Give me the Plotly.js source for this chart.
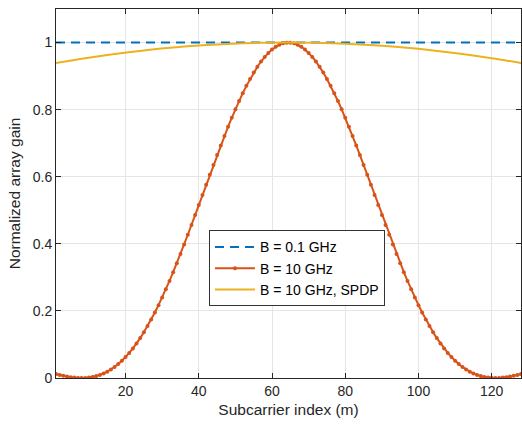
<!DOCTYPE html>
<html>
<head>
<meta charset="utf-8">
<script src="https://cdn.plot.ly/plotly-3.0.1.min.js"></script>
<style>html,body{margin:0;padding:0;background:#fff;}#chart{width:522px;height:428px;}</style>
</head>
<body>
<div id="chart"></div>
<script>
// Subcarrier indices 1..128
var subcarriers = [];
for (var i = 1; i <= 128; i++) subcarriers.push(i);

// B = 0.1 GHz (flat)
var narrowX = [1, 128];
var narrowGain = [1, 1];

// B = 10 GHz (per subcarrier)
var wideGain = [
  0.0116, 0.0089, 0.0064, 0.0043, 0.0025, 0.0012, 0.0003, 0.0000,
  0.0003, 0.0013, 0.0031, 0.0057, 0.0092, 0.0136, 0.0190, 0.0254,
  0.0329, 0.0416, 0.0515, 0.0625, 0.0748, 0.0883, 0.1030, 0.1190,
  0.1362, 0.1547, 0.1743, 0.1952, 0.2172, 0.2402, 0.2643, 0.2894,
  0.3154, 0.3423, 0.3699, 0.3981, 0.4270, 0.4562, 0.4859, 0.5158,
  0.5458, 0.5758, 0.6057, 0.6353, 0.6647, 0.6934, 0.7216, 0.7491,
  0.7757, 0.8013, 0.8257, 0.8490, 0.8709, 0.8914, 0.9104, 0.9278,
  0.9434, 0.9572, 0.9692, 0.9793, 0.9874, 0.9936, 0.9977, 0.9997,
  0.9997, 0.9977, 0.9936, 0.9874, 0.9793, 0.9692, 0.9572, 0.9434,
  0.9278, 0.9104, 0.8914, 0.8709, 0.8490, 0.8257, 0.8013, 0.7757,
  0.7491, 0.7216, 0.6934, 0.6647, 0.6353, 0.6057, 0.5758, 0.5458,
  0.5158, 0.4859, 0.4562, 0.4270, 0.3981, 0.3699, 0.3423, 0.3154,
  0.2894, 0.2643, 0.2402, 0.2172, 0.1952, 0.1743, 0.1547, 0.1362,
  0.1190, 0.1030, 0.0883, 0.0748, 0.0625, 0.0515, 0.0416, 0.0329,
  0.0254, 0.0190, 0.0136, 0.0092, 0.0057, 0.0031, 0.0013, 0.0003,
  0.0000, 0.0003, 0.0012, 0.0025, 0.0043, 0.0064, 0.0089, 0.0116
];

// B = 10 GHz, SPDP (sampled readings)
var spdpX = [1, 9, 17, 25, 33, 41, 49, 57, 64.5, 72, 80, 88, 96, 104, 112, 120, 128];
var spdpGain = [0.939, 0.9534, 0.9659, 0.9764, 0.985, 0.9916, 0.9964, 0.9991, 1.0,
                0.9991, 0.9964, 0.9916, 0.985, 0.9764, 0.9659, 0.9534, 0.939];

var seriesNames = ['B = 0.1 GHz', 'B = 10 GHz', 'B = 10 GHz, SPDP'];
var xTicks = [20, 40, 60, 80, 100, 120];
var yTicks = [0, 0.2, 0.4, 0.6, 0.8, 1];
var yTickText = ['0', '0.2', '0.4', '0.6', '0.8', '1'];

var traces = [
  {x: narrowX, y: narrowGain, name: seriesNames[0], mode: 'lines',
   line: {color: '#0072BD', width: 2, dash: '9px,6px'}},
  {x: subcarriers, y: wideGain, name: seriesNames[1], mode: 'lines+markers',
   line: {color: '#D95319', width: 2}, marker: {color: '#D95319', size: 4}},
  {x: spdpX, y: spdpGain, name: seriesNames[2], mode: 'lines',
   line: {color: '#EDB120', width: 2, shape: 'spline'}}
];

var fam = '"Liberation Sans", Arial, Helvetica, sans-serif';

var layout = {
  width: 522, height: 428,
  margin: {l: 55.5, r: 1, t: 8.5, b: 50.3},
  paper_bgcolor: '#fff', plot_bgcolor: '#fff',
  font: {family: fam, color: '#262626', size: 14},
  showlegend: true,
  legend: {
    x: 0.329, y: 0.40, xanchor: 'left', yanchor: 'top',
    bgcolor: '#fff', bordercolor: '#333', borderwidth: 1,
    font: {family: fam, size: 14, color: '#000'},
    tracegroupgap: 0, itemwidth: 40
  },
  xaxis: {
    range: [1, 128], tickvals: xTicks, ticks: 'inside', ticklen: 5,
    tickcolor: '#262626', showline: true, linecolor: '#262626', linewidth: 1,
    mirror: 'ticks', showgrid: true, gridcolor: '#e5e5e5', zeroline: false,
    tickfont: {size: 14, color: '#262626'},
    title: {text: 'Subcarrier index (m)', font: {size: 15.5, color: '#262626'}, standoff: 6}
  },
  yaxis: {
    range: [0, 1.1], tickvals: yTicks, ticktext: yTickText, ticks: 'inside', ticklen: 5,
    tickcolor: '#262626', showline: true, linecolor: '#262626', linewidth: 1,
    mirror: 'ticks', showgrid: true, gridcolor: '#e5e5e5', zeroline: false,
    tickfont: {size: 14, color: '#262626'},
    title: {text: 'Normalized array gain', font: {size: 15.5, color: '#262626'}, standoff: 8}
  }
};

Plotly.newPlot('chart', traces, layout, {displayModeBar: false, staticPlot: true});
</script>
</body>
</html>
